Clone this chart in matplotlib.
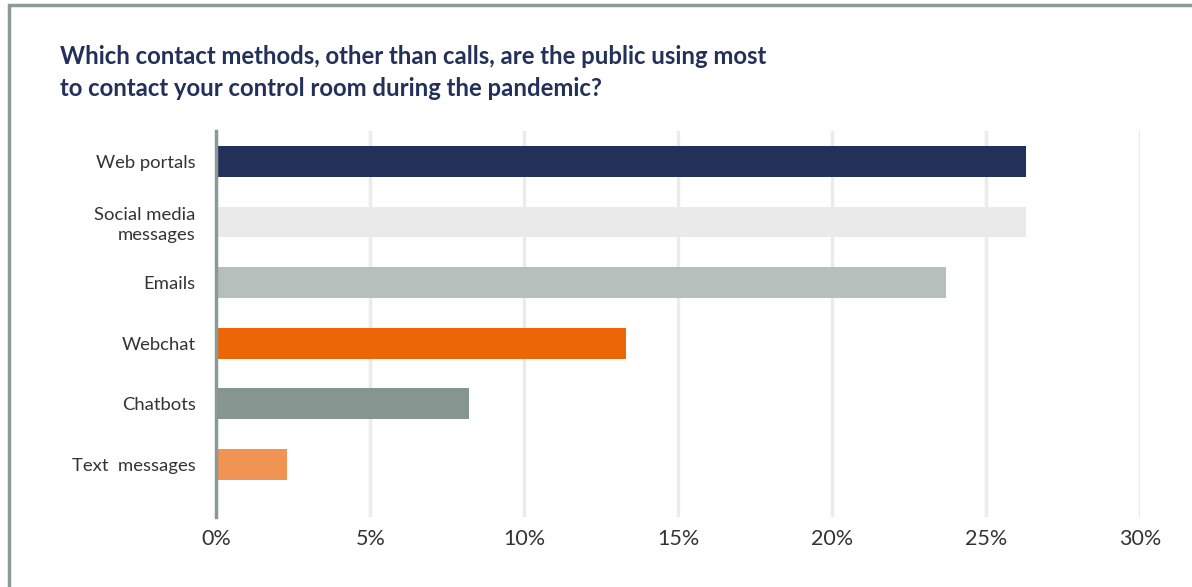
import matplotlib.pyplot as plt
from matplotlib.patches import Rectangle
from matplotlib.ticker import FuncFormatter

plt.rcParams['font.family'] = ['Lato', 'DejaVu Sans']

# Data
methods = ["Web portals", "Social media\nmessages", "Emails", "Webchat", "Chatbots", "Text  messages"]
shares = [26.3, 26.3, 23.7, 13.3, 8.2, 2.3]
colors = ["#22305a", "#eaeaea", "#b5bfbc", "#ec6608", "#84968f", "#f19453"]
xticks = [0, 5, 10, 15, 20, 25, 30]

fig = plt.figure(figsize=(11.92, 5.87), dpi=100)
ax = fig.add_axes([0.1816, 0.1198, 0.775, 0.657])

# Grid lines behind bars
for t in xticks[1:]:
    ax.axvline(t, color="#ebebeb", linewidth=2.5, zorder=0)

ypos = list(range(len(methods)))
ax.barh(ypos, shares, height=0.51, color=colors, zorder=2)

ax.set_xlim(0, 30)
ax.set_ylim(5.86, -0.5)
ax.set_xticks(xticks)
ax.xaxis.set_major_formatter(FuncFormatter(lambda v, p: f"{v:.0f}%"))
ax.set_yticks(ypos)
ax.set_yticklabels(methods, linespacing=1.3)

for s in ["top", "right", "bottom"]:
    ax.spines[s].set_visible(False)
ax.spines["left"].set_color("#8a9a96")
ax.spines["left"].set_linewidth(2.5)
ax.spines["left"].set_zorder(3)

ax.tick_params(axis="x", length=0, pad=9, labelsize=15.5, labelcolor="#333333")
ax.tick_params(axis="y", length=0, pad=15, labelsize=13.3, labelcolor="#333333")

# Title
fig.text(60 / 1192, 1 - 56 / 587, "Which contact methods, other than calls, are the public using most",
         fontsize=17.2, fontweight="bold", color="#22305a", va="center", ha="left")
fig.text(60 / 1192, 1 - 88 / 587, "to contact your control room during the pandemic?",
         fontsize=17.2, fontweight="bold", color="#22305a", va="center", ha="left")

# Frame around the card (only left and top edges fall inside the image)
fig.patches.append(Rectangle((9 / 1192, -0.1), 1.2, 1 - 5 / 587 + 0.1, transform=fig.transFigure,
                             fill=False, edgecolor="#8a9a96", linewidth=2.5))

fig.savefig("out.png", dpi=100)
